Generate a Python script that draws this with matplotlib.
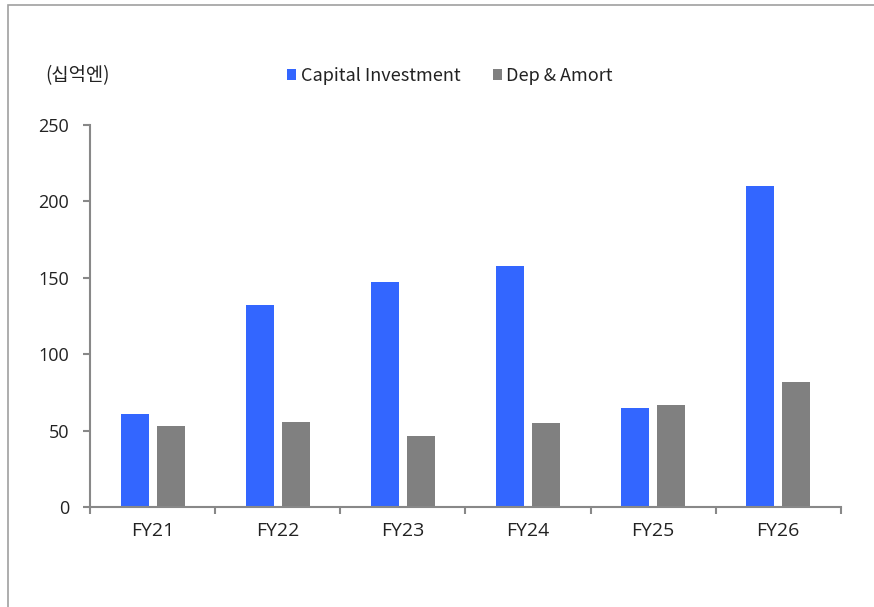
import numpy as np
import matplotlib
matplotlib.use('Agg')
import matplotlib.pyplot as plt
from matplotlib.patches import Rectangle

plt.rcParams['font.family'] = ['Noto Sans CJK KR', 'DejaVu Sans']

# --- data ---
categories = ['FY21', 'FY22', 'FY23', 'FY24', 'FY25', 'FY26']
capital_investment = [61, 132, 147, 158, 65, 210]
dep_amort = [53, 55.5, 46.5, 55, 67, 82]
unit_label = '(십억엔)'
series_names = ['Capital Investment', 'Dep & Amort']

BLUE = '#3366FF'
GRAY = '#808080'
AXIS = '#888888'
TXT = '#222222'

fig = plt.figure(figsize=(8.74, 6.07), dpi=100)
ax = fig.add_axes([0.103, 0.1647, 0.859, 0.6293])

# outer frame of the figure (only left and top visible in the crop)
fig.patches.append(Rectangle((8 / 874, -0.1), 1.2, 1.1 - 5 / 607, transform=fig.transFigure,
                             fill=False, edgecolor='#a0a0a0', linewidth=1.2))

x = np.arange(len(categories))
w = 0.224
ax.bar(x - 0.144, capital_investment, width=w, color=BLUE, label=series_names[0])
ax.bar(x + 0.144, dep_amort, width=w, color=GRAY, label=series_names[1])

ax.set_xlim(-0.5, len(categories) - 0.5)
ax.set_ylim(0, 250)
ax.set_yticks(range(0, 251, 50))
ax.set_xticks(x)
ax.set_xticklabels(categories)
ax.set_xticks(np.arange(-0.5, len(categories), 1), minor=True)

for s in ['top', 'right']:
    ax.spines[s].set_visible(False)
for s in ['left', 'bottom']:
    ax.spines[s].set_color(AXIS)
    ax.spines[s].set_linewidth(1.5)

ax.tick_params(axis='y', direction='out', length=5, width=1.5, color=AXIS,
               labelsize=13, labelcolor=TXT, pad=10)
ax.tick_params(axis='x', which='major', length=0, labelsize=14, labelcolor=TXT, pad=11)
ax.tick_params(axis='x', which='minor', direction='out', length=5, width=1.5, color=AXIS)
for lab in ax.get_xticklabels() + ax.get_yticklabels():
    lab.set_family(['Open Sans', 'DejaVu Sans'])

fig.text(45 / 874, 1 - 76 / 607, unit_label, fontsize=13.5, va='center', ha='left', color=TXT)

leg = ax.legend(loc='center', bbox_to_anchor=(450 / 874, 1 - 76 / 607), bbox_transform=fig.transFigure,
                ncol=2, frameon=False, fontsize=13, handlelength=0.5, handleheight=0.5,
                handletextpad=0.25, columnspacing=1.8)
for t in leg.get_texts():
    t.set_color(TXT)

fig.savefig('out.png', dpi=100)
